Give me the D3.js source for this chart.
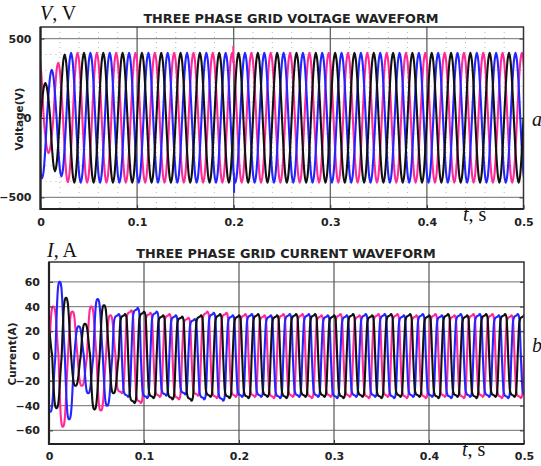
<!DOCTYPE html>
<html><head><meta charset="utf-8">
<script src="https://cdn.jsdelivr.net/npm/d3@7"></script>
<style>html,body{margin:0;padding:0;background:#fff;} svg{display:block;}</style>
</head><body><svg id="c" width="541" height="466"></svg>
<script>
// ---------------- data ----------------
const HALF = 0.01; // half period of the 50 Hz grid, s
const timeTicks = [0, 0.1, 0.2, 0.3, 0.4, 0.5];
const timeTickLabels = ["0", "0.1", "0.2", "0.3", "0.4", "0.5"];
const timeMinor = [0.02,0.04,0.06,0.08,0.12,0.14,0.16,0.18,0.22,0.24,0.26,0.28,0.32,0.34,0.36,0.38,0.42,0.44,0.46,0.48];
const voltageTicks = [-500, 0, 500];
const voltageMinor = [-400, -300, -200, -100, 100, 200, 300, 400];
const currentTicks = [-60, -40, -20, 0, 20, 40, 60];
const seriesNames = ["magenta", "blue", "black"];
const seriesColors = ["#ff2a98", "#2424ff", "#111111"];

// time of the first zero crossing of each phase (s)
const voltageStart = [-0.00667, -0.00333, 0];   // magenta, blue, black
const currentStart = [0, -0.00333, -0.00667];   // magenta, blue, black

// peak value of every half cycle (signed)
const voltageMagenta = [400,-221,347,-405,410,-408,410,-408,410,-408,
  410,-408,410,-408,410,-408,410,-408,410,-408,
  410,-408,410,-408,410,-408,410,-408,410,-408,
  410,-408,410,-408,410,-408,410,-408,410,-408,
  410,-408,410,-408,410,-408,410,-408,410,-408, 410];
const voltageBlue = [-380,304,-368,410,-408,410,-408,410,-408,410,
  -408,410,-408,410,-408,410,-408,410,-408,410,
  -408,410,-408,410,-408,410,-408,410,-408,410,
  -408,410,-408,410,-408,410,-408,410,-408,410,
  -408,410,-408,410,-408,410,-408,410,-408,410, -408];
const voltageBlack = [220,-336,399,-408,410,-408,410,-408,410,-408,
  410,-408,410,-408,410,-408,410,-408,410,-408,
  410,-408,410,-408,410,-408,410,-408,410,-408,
  410,-408,410,-408,410,-408,410,-408,410,-408,
  410,-408,410,-408,410,-408,410,-408,410,-408];

const currentMagenta = [40,-57,36,-24,40,-44,33,-30,37,-38,
  35,-33,34,-35,31,-32,36,-34,35,-33,
  34,-33,33,-34,34,-33,34,-34,33,-33,
  34,-33,33,-34,34,-33,34,-34,33,-34,
  34,-33,33,-34,34,-33,34,-34,33,-34];
const currentBlue = [-45,60,-51,24,-30,46,-40,34,-33,39,
  -34,36,-32,33,-31,30,-35,35,-36,33,
  -33,34,-33,33,-34,34,-33,34,-33,33,
  -34,33,-33,34,-33,34,-34,33,-33,34,
  -33,33,-34,34,-33,34,-33,33,-34,34, -33];
const currentBlack = [25,-42,47,-24,26,-43,41,-30,34,-38,
  36,-34,33,-35,32,-36,33,-33,34,-34,
  33,-34,34,-33,33,-34,34,-33,34,-33,
  33,-34,34,-33,33,-34,34,-33,34,-33,
  33,-34,34,-33,33,-34,34,-33,34,-33, 33];

// normalised shape of one half cycle (equal time steps from the zero crossing)
const voltageProfile = [0, 0.5, 0.866, 1, 0.866, 0.5];
const currentProfile = [0, 0.45, 0.8, 0.9, 0.94, 0.95, 0.96, 0.97, 1, 0.98, 0.9, 0.55];
// the first half cycles of the current are rounder (start-up transient)
const currentRoundProfile = [0, 0.35, 0.65, 0.87, 0.97, 1, 1, 0.97, 0.88, 0.7, 0.45, 0.2];
const currentRoundUntil = 0.065; // s

// short switching spikes at t = 0.2 s in the voltage plot
const voltageGlitches = [
  {series: 0, t: 0.1995, from: 346, to: 455},
  {series: 1, t: 0.2005, from: -346, to: -470}
];

// ---------------- drawing ----------------
function buildWave(start, peaks, profileAt) {
  const pts = [];
  peaks.forEach((p, k) => {
    const t0 = start + k * HALF;
    const profile = profileAt(t0);
    const n = profile.length;
    for (let j = 0; j < n; j++) pts.push([t0 + (j / n) * HALF, p * profile[j]]);
  });
  pts.push([start + peaks.length * HALF, 0]);
  return pts;
}

const svg = d3.select("#c");
const tickFont = "'DejaVu Sans', Verdana, sans-serif";
const serif = "'Liberation Serif', 'Times New Roman', serif";

function panel(cfg) {
  const x = d3.scaleLinear().domain([0, 0.5]).range([cfg.left, cfg.right]);
  const y = d3.scaleLinear().domain(cfg.yDomain).range([cfg.bottom, cfg.top]);
  const g = svg.append("g");
  const id = "clip" + cfg.name;
  svg.append("clipPath").attr("id", id).append("rect")
    .attr("x", cfg.left).attr("y", cfg.top)
    .attr("width", cfg.right - cfg.left).attr("height", cfg.bottom - cfg.top);

  // minor dotted grid
  if (cfg.xMinor) g.selectAll(".xm").data(cfg.xMinor).join("line")
    .attr("x1", d => x(d)).attr("x2", d => x(d)).attr("y1", cfg.top).attr("y2", cfg.bottom)
    .attr("stroke", "#b8b8b8").attr("stroke-width", 1).attr("stroke-dasharray", "1,4");
  if (cfg.yMinor) g.selectAll(".ym").data(cfg.yMinor).join("line")
    .attr("x1", cfg.left).attr("x2", cfg.right).attr("y1", d => y(d)).attr("y2", d => y(d))
    .attr("stroke", "#b8b8b8").attr("stroke-width", 1).attr("stroke-dasharray", "1,4");
  // major grid
  g.selectAll(".yg").data(cfg.yTicks).join("line")
    .attr("x1", cfg.left).attr("x2", cfg.right).attr("y1", d => y(d)).attr("y2", d => y(d))
    .attr("stroke", "#8a8a8a").attr("stroke-width", 1.2);
  g.selectAll(".xg").data(timeTicks.slice(1, -1)).join("line")
    .attr("x1", d => x(d)).attr("x2", d => x(d)).attr("y1", cfg.top).attr("y2", cfg.bottom)
    .attr("stroke", "#555").attr("stroke-width", 1.2);

  // waves
  const line = d3.line().x(d => x(d[0])).y(d => y(d[1])).curve(d3.curveMonotoneX);
  const wg = g.append("g").attr("clip-path", `url(#${id})`);
  cfg.series.forEach((peaks, i) => {
    wg.append("path").attr("d", line(buildWave(cfg.starts[i], peaks, cfg.profileAt)))
      .attr("fill", "none").attr("stroke", seriesColors[i]).attr("stroke-width", 2.1)
      .attr("stroke-linejoin", "round");
  });
  (cfg.glitches || []).forEach(gl => {
    wg.append("line").attr("x1", x(gl.t)).attr("x2", x(gl.t)).attr("y1", y(gl.from)).attr("y2", y(gl.to))
      .attr("stroke", seriesColors[gl.series]).attr("stroke-width", 1.8);
  });

  // frame
  g.append("rect").attr("x", cfg.left).attr("y", cfg.top)
    .attr("width", cfg.right - cfg.left).attr("height", cfg.bottom - cfg.top)
    .attr("fill", "none").attr("stroke", "#333").attr("stroke-width", 1.5);
  g.append("path").attr("d", `M${cfg.left},${cfg.top}V${cfg.bottom}H${cfg.right}`)
    .attr("fill", "none").attr("stroke", "#222").attr("stroke-width", 2.2);

  // axes via d3
  const ya = d3.axisLeft(y).tickValues(cfg.yTicks).tickSize(-4).tickPadding(9).tickFormat(d3.format("d"));
  const yAxisG = g.append("g").attr("transform", `translate(${cfg.left},0)`).call(ya);
  const yr = d3.axisRight(y).tickValues(cfg.yTicks).tickSize(-4).tickFormat("");
  const yrG = g.append("g").attr("transform", `translate(${cfg.right},0)`).call(yr);
  const xa = d3.axisBottom(x).tickValues(timeTicks).tickSize(-4).tickPadding(cfg.xPad)
    .tickFormat((d, i) => timeTickLabels[i]);
  const xAxisG = g.append("g").attr("transform", `translate(0,${cfg.bottom})`).call(xa);
  [yAxisG, yrG, xAxisG].forEach(a => {
    a.select(".domain").remove();
    a.selectAll(".tick line").attr("stroke", "#333");
    a.selectAll("text").attr("font-family", tickFont).attr("font-weight", "bold")
      .attr("font-size", "11px").attr("fill", "#222");
  });

  // titles
  g.append("text").attr("x", cfg.titleX).attr("y", cfg.titleY).attr("text-anchor", "middle")
    .attr("font-family", tickFont).attr("font-weight", "bold").attr("font-size", "12.8px")
    .attr("fill", "#222").text(cfg.title);
  g.append("text").attr("transform", `translate(${cfg.yLabelX},${cfg.yLabelY}) rotate(-90)`)
    .attr("text-anchor", "middle").attr("font-family", tickFont).attr("font-weight", "bold")
    .attr("font-size", "10.5px").attr("fill", "#222").text(cfg.yLabel);
}

panel({
  name: "V", left: 40.5, right: 523.5, top: 27, bottom: 209, yDomain: [-573, 573],
  yTicks: voltageTicks, yMinor: voltageMinor, xMinor: timeMinor,
  series: [voltageMagenta, voltageBlue, voltageBlack], starts: voltageStart,
  profileAt: () => voltageProfile, glitches: voltageGlitches, xPad: 9,
  title: "THREE PHASE GRID VOLTAGE WAVEFORM", titleX: 291, titleY: 23,
  yLabel: "Voltage(V)", yLabelX: 23, yLabelY: 119
});
panel({
  name: "I", left: 49, right: 524, top: 262, bottom: 444, yDomain: [-71, 76],
  yTicks: currentTicks, yMinor: null, xMinor: null,
  series: [currentMagenta, currentBlue, currentBlack], starts: currentStart,
  profileAt: t0 => (t0 < currentRoundUntil ? currentRoundProfile : currentProfile),
  glitches: [], xPad: 8,
  title: "THREE PHASE GRID CURRENT WAVEFORM", titleX: 286, titleY: 258,
  yLabel: "Current(A)", yLabelX: 16, yLabelY: 354
});

// serif annotations
function ann(x, y, parts) {
  const t = svg.append("text").attr("x", x).attr("y", y)
    .attr("font-family", serif).attr("font-size", "20px").attr("fill", "#111");
  parts.forEach(p => t.append("tspan").attr("font-style", p[1] ? "italic" : "normal").text(p[0]));
}
ann(40, 20, [["V", true], [", V", false]]);
ann(463, 221, [["t", true], [", s", false]]);
ann(532, 126, [["a", true]]);
ann(47, 257, [["I", true], [", A", false]]);
ann(532, 352, [["b", true]]);
ann(462, 456, [["t", true], [", s", false]]);
</script></body></html>
